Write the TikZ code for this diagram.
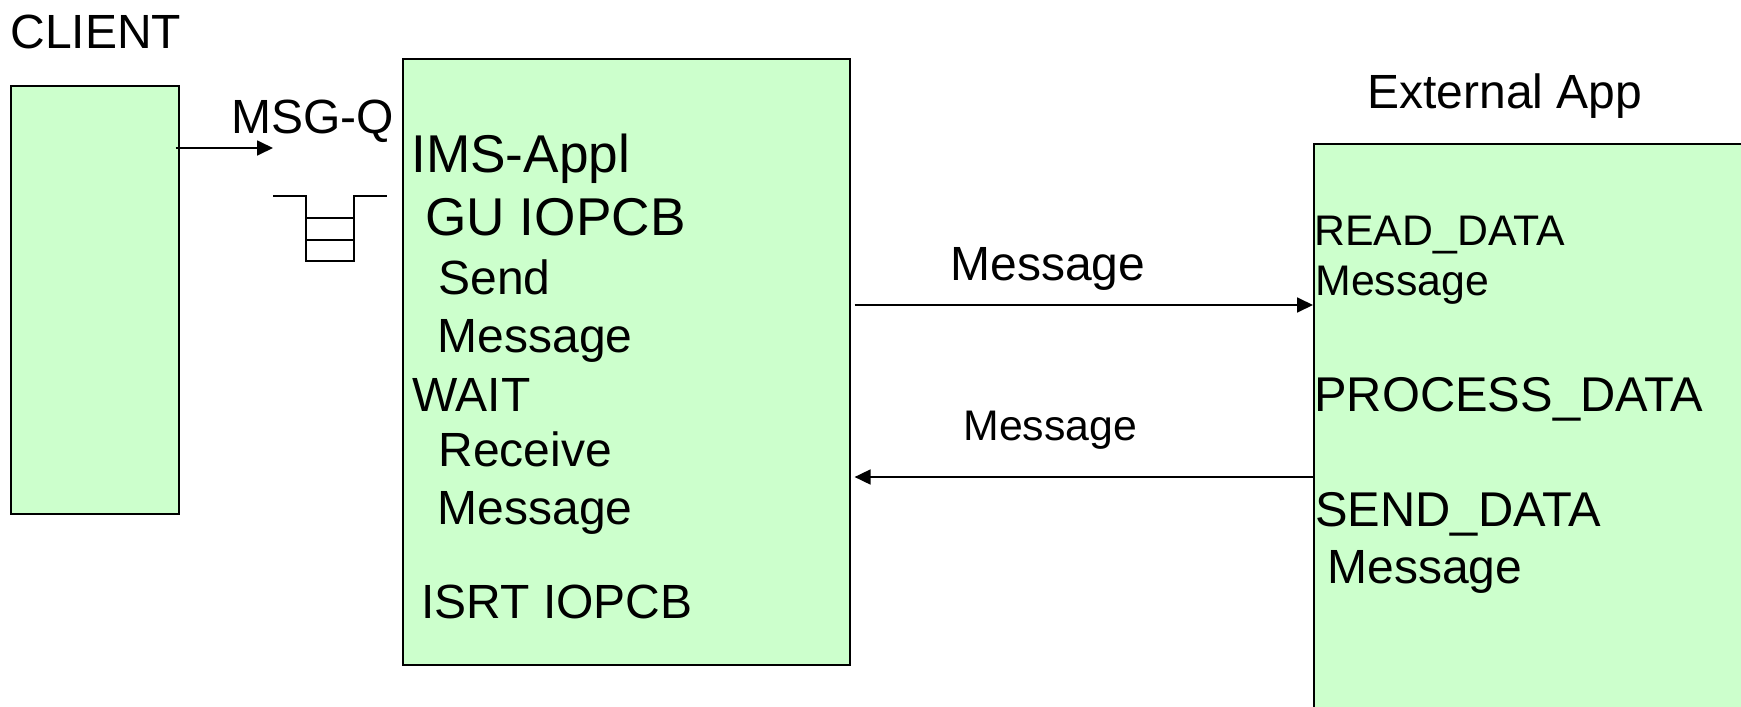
\documentclass[tikz,border=0pt]{standalone}
\usepackage{fontspec}
\setmainfont{Liberation Sans}
\usetikzlibrary{arrows.meta}
\definecolor{boxgreen}{HTML}{CCFFCC}
\tikzset{
  greenbox/.style={draw=black, fill=boxgreen, line width=0.8pt, inner sep=0pt, anchor=north west},
  txt/.style={anchor=base west, inner sep=0pt, font=\fontsize{24}{29}\selectfont},
  txtwide/.style={txt, font=\fontsize{24.4}{29}\selectfont},
  txtbig/.style={txt, font=\fontsize{26.6}{32}\selectfont},
  txtsmall/.style={txt, font=\fontsize{21.4}{26}\selectfont},
  arr/.style={line width=0.9pt, -{Triangle[length=8pt,width=7.5pt]}},
  queue/.style={line width=0.8pt}
}
\begin{document}
\begin{tikzpicture}[x=0.5pt,y=-0.5pt]
\useasboundingbox (0,0) rectangle (1741,707);
\clip (0,0) rectangle (1741,707);
\fill[white] (0,0) rectangle (1741,707);

% boxes
\node[greenbox, minimum width=84pt, minimum height=214pt] (client) at (10,85) {};
\node[greenbox, minimum width=223.5pt, minimum height=303pt] (ims) at (402,58) {};
\node[greenbox, minimum width=240pt, minimum height=300pt] (ext) at (1313,143) {};

% titles
\node[txt] (tclient) at (10,48) {CLIENT};
\node[txt] (tmsgq) at (231,133) {MSG-Q};
\node[txt] (text) at (1367,108) {External App};

% IMS text
\node[txtbig] (t1) at (411,172) {IMS-Appl};
\node[txtbig] (t2) at (425,235) {GU IOPCB};
\node[txt] (t3) at (438,294) {Send};
\node[txt] (t4) at (437.5,352) {Message};
\node[txt] (t5) at (412,411) {WAIT};
\node[txt] (t6) at (438,466) {Receive};
\node[txt] (t7) at (437.5,524) {Message};
\node[txt] (t8) at (421,618) {ISRT IOPCB};

% external text
\node[txtsmall] (e1) at (1314,245) {READ\_DATA};
\node[txtsmall] (e2) at (1315,295) {Message};
\node[txtwide] (e3) at (1314,411) {PROCESS\_DATA};
\node[txtwide] (e4) at (1315,526) {SEND\_DATA};
\node[txt] (e5) at (1327,583) {Message};

% arrow labels
\node[txt] (m1) at (950,280) {Message};
\node[txtsmall] (m2) at (963,440) {Message};

% queue symbol
\coordinate (qin) at (273,148);
\draw[queue] (273,196) -- (306,196) -- (306,261) -- (354,261) -- (354,196) -- (387,196);
\draw[queue] (306,218) -- (354,218);
\draw[queue] (306,240) -- (354,240);

% connectors
\coordinate (ya) at (0,305);
\coordinate (yb) at (0,477);
\draw[arr] ([xshift=-2pt]qin -| client.east) -- (qin);
\draw[arr] ([xshift=2pt]ya -| ims.east) -- (ya -| ext.west);
\draw[arr] (yb -| ext.west) -- ([xshift=2pt]yb -| ims.east);
\end{tikzpicture}
\end{document}
